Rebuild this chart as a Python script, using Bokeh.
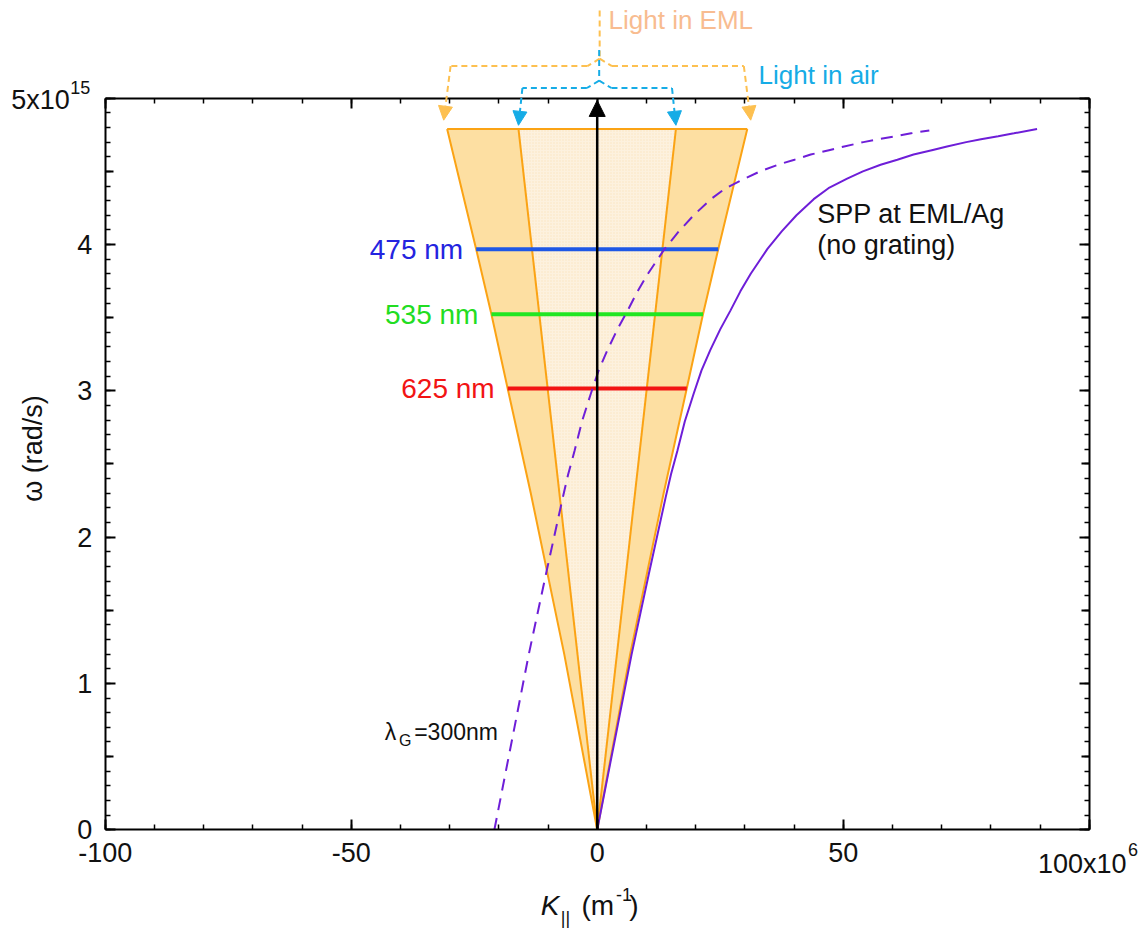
from bokeh.plotting import figure
from bokeh.models import (Range1d, LinearAxis, FixedTicker, Label, Arrow, NormalHead)
from bokeh.embed import file_html
from bokeh.resources import INLINE

# ---------------- data ----------------
# wave vector k in units of 1e6 1/m, angular frequency w in units of 1e15 rad/s
eml_edge_k = [0.0, 6.7, 13.5, 18.2, 21.5, 24.6, 30.5]
eml_edge_w = [0.0, 1.2, 2.3, 3.016, 3.523, 3.968, 4.79]
air_top_k = 16.0
top_w = 4.79

wl_labels = ["475 nm", "535 nm", "625 nm"]
wl_w = [3.968, 3.523, 3.016]
wl_half_k = [24.6, 21.5, 18.2]
wl_line_colors = ["#1F58E6", "#22E622", "#F21414"]
wl_text_colors = ["#2424E0", "#22DD22", "#F21414"]

spp_k = [0, 3.5, 7.0, 10.5, 13.9, 15.0, 16.3, 17.8, 19.6, 21.2, 23.0, 25.0, 27.1, 29.1,
         31.2, 34.6, 37.5, 40.5, 44.0, 47.0, 50.8, 54.0, 57.6, 61.0, 64.3, 68.0, 71.1,
         75.0, 78.0, 81.5, 84.7, 89.4]
spp_w = [0, 0.6, 1.2, 1.75, 2.27, 2.43, 2.59, 2.79, 2.98, 3.14, 3.28, 3.42, 3.55, 3.68,
         3.80, 3.97, 4.09, 4.20, 4.31, 4.385, 4.45, 4.50, 4.545, 4.58, 4.615, 4.645, 4.67,
         4.70, 4.72, 4.74, 4.76, 4.79]

grating_k = [-20.9, -17.4, -13.9, -10.4, -7.0, -5.9, -4.6, -3.1, -1.3, 0.3, 2.1, 4.1, 6.2,
             8.2, 10.3, 13.7, 16.6, 19.6, 23.1, 26.1, 29.9, 33.1, 36.7, 40.1, 43.4, 47.1,
             50.2, 54.1, 57.1, 60.6, 63.8, 67.5]
grating_w = [0, 0.6, 1.2, 1.75, 2.27, 2.43, 2.59, 2.79, 2.98, 3.14, 3.28, 3.42, 3.55, 3.68,
             3.80, 3.97, 4.09, 4.20, 4.31, 4.385, 4.45, 4.50, 4.545, 4.58, 4.615, 4.645,
             4.67, 4.70, 4.72, 4.74, 4.76, 4.78]

x_major = [-100, -50, 0, 50, 100]
x_minor = list(range(-100, 101, 10))
y_major = [0, 1, 2, 3, 4, 5]
y_mid = [0.5, 1.5, 2.5, 3.5, 4.5]
y_minor = [i / 10 for i in range(0, 51)]

FONT = "Liberation Sans"
ORANGE_EDGE = "#FBA314"
ORANGE_FILL = "#FDDFA2"
INNER_FILL = "#FDF1DE"
PURPLE = "#6E1ED8"
BRACE_ORANGE = "#FDC050"
BRACE_BLUE = "#16ACE6"
INK = "#111111"

# The frame spans the whole canvas so that annotations above the box are not clipped;
# the box itself is formed by axes placed at fixed data locations.
p = figure(width=1145, height=929, x_range=Range1d(-121.28, 111.44),
           y_range=Range1d(-0.682, 5.668), output_backend="svg", toolbar_location=None,
           x_axis_location=None, y_axis_location=None,
           min_border_left=0, min_border_right=0, min_border_top=0, min_border_bottom=0)
p.xgrid.visible = False
p.ygrid.visible = False
p.outline_line_color = None
p.background_fill_color = "white"
p.border_fill_color = "white"

def make_axis(ticker, loc, bounds, show_labels, overrides=None, tick_in=10, line=True):
    ax = LinearAxis(ticker=ticker, fixed_location=loc, bounds=bounds)
    ax.axis_line_width = 2
    if not line:
        ax.axis_line_color = None
    ax.major_tick_in = tick_in
    ax.major_tick_out = 0
    ax.minor_tick_in = 5
    ax.minor_tick_out = 0
    ax.major_tick_line_width = 2
    ax.minor_tick_line_width = 1.5
    ax.major_label_text_font = FONT
    ax.major_label_text_font_size = "27px" if show_labels else "0px"
    ax.major_label_text_color = INK if show_labels else None
    ax.major_label_standoff = 13
    if overrides:
        ax.major_label_overrides = overrides
    return ax

p.add_layout(make_axis(FixedTicker(ticks=x_major, minor_ticks=x_minor), 0, (-100, 100), True,
                       {-100: "-100", -50: "-50", 100: ""}), "below")
p.add_layout(make_axis(FixedTicker(ticks=y_major, minor_ticks=y_minor), -100, (0, 5), True,
                       {5: ""}), "left")
p.add_layout(make_axis(FixedTicker(ticks=x_major, minor_ticks=x_minor), 5, (-100, 100), False),
             "above")
p.add_layout(make_axis(FixedTicker(ticks=y_major, minor_ticks=y_minor), 100, (0, 5), False),
             "right")
# medium ticks at the half-integers of the frequency axis
p.add_layout(make_axis(FixedTicker(ticks=y_mid, minor_ticks=[]), -100, (0, 5), False,
                       tick_in=8, line=False), "left")
p.add_layout(make_axis(FixedTicker(ticks=y_mid, minor_ticks=[]), 100, (0, 5), False,
                       tick_in=8, line=False), "right")

# ---------------- light cone ----------------
left_k = [-k for k in eml_edge_k]
cone_x = eml_edge_k + left_k[::-1]
cone_y = eml_edge_w + eml_edge_w[::-1]
p.patch(cone_x, cone_y, fill_color=ORANGE_FILL, line_color=None)
p.patch([0, air_top_k, -air_top_k], [0, top_w, top_w], fill_color=INNER_FILL, line_color=None,
        hatch_pattern="dot", hatch_color="#F6CF98", hatch_alpha=0.45, hatch_scale=3)
p.line(eml_edge_k, eml_edge_w, line_color=ORANGE_EDGE, line_width=2)
p.line(left_k, eml_edge_w, line_color=ORANGE_EDGE, line_width=2)
p.line([0, air_top_k], [0, top_w], line_color=ORANGE_EDGE, line_width=2)
p.line([0, -air_top_k], [0, top_w], line_color=ORANGE_EDGE, line_width=2)
p.line([-eml_edge_k[-1], eml_edge_k[-1]], [top_w, top_w], line_color=ORANGE_EDGE, line_width=2)

# ---------------- wavelength lines ----------------
for lab, w, hk, lc, tc in zip(wl_labels, wl_w, wl_half_k, wl_line_colors, wl_text_colors):
    p.line([-hk, hk], [w, w], line_color=lc, line_width=4)
    p.add_layout(Label(x=-hk, y=w, x_offset=-13, text=lab, text_align="right",
                       text_baseline="middle", text_font=FONT, text_font_size="28px",
                       text_color=tc))

# ---------------- SPP curves ----------------
p.line(spp_k, spp_w, line_color=PURPLE, line_width=2)
p.line(grating_k, grating_w, line_color=PURPLE, line_width=2, line_dash="12 8")

# central arrow
p.add_layout(Arrow(end=NormalHead(size=16, fill_color="black", line_color="black"),
                   x_start=0, y_start=0, x_end=0, y_end=4.985,
                   line_color="black", line_width=2.5))

# ---------------- braces above the box ----------------
eml_top = eml_edge_k[-1]
def brace(color, k0, w_top, w_bar, w_tip, k_bar, k_tip):
    segs = [(k0, w_top, k0, w_bar + 0.05), (k0, w_bar + 0.05, k0 - 2.5, w_bar),
            (k0, w_bar + 0.05, k0 + 2.5, w_bar),
            (k0 - 2.5, w_bar, -k_bar, w_bar), (k0 + 2.5, w_bar, k_bar, w_bar)]
    for xs, ys, xe, ye in segs:
        p.add_layout(Arrow(end=None, x_start=xs, y_start=ys, x_end=xe, y_end=ye,
                           line_color=color, line_width=2, line_dash="6 4"))
    for sgn in (-1, 1):
        p.add_layout(Arrow(end=NormalHead(size=14, fill_color=color, line_color=color),
                           x_start=sgn * k_bar, y_start=w_bar, x_end=sgn * k_tip, y_end=w_tip,
                           line_color=color, line_width=2, line_dash="6 4"))

brace(BRACE_ORANGE, 0.5, 5.60, 5.22, 4.85, eml_top - 0.7, eml_top + 0.7)
brace(BRACE_BLUE, 0.4, 5.33, 5.07, 4.815, air_top_k - 0.8, air_top_k)

p.add_layout(Label(x=2.3, y=5.536, text="Light in EML", text_font=FONT, text_font_size="26px",
                   text_color="#F8BC90", text_baseline="middle", text_align="left"))
p.add_layout(Label(x=32.8, y=5.16, text="Light in air", text_font=FONT, text_font_size="26px",
                   text_color=BRACE_BLUE, text_baseline="middle", text_align="left"))

# ---------------- other texts ----------------
p.add_layout(Label(x=44.7, y=4.21, text="SPP at EML/Ag", text_font=FONT, text_font_size="27px",
                   text_color=INK, text_baseline="middle", text_align="left"))
p.add_layout(Label(x=44.7, y=4.0, text="(no grating)", text_font=FONT, text_font_size="27px",
                   text_color=INK, text_baseline="middle", text_align="left"))

p.add_layout(Label(x=-43.2, y=0.67, text="λ", text_font=FONT, text_font_size="23px",
                   text_color=INK, text_baseline="middle", text_align="left"))
p.add_layout(Label(x=-40.3, y=0.61, text="G", text_font=FONT, text_font_size="16px",
                   text_color=INK, text_baseline="middle", text_align="left"))
p.add_layout(Label(x=-37.2, y=0.67, text="=300nm", text_font=FONT, text_font_size="23px",
                   text_color=INK, text_baseline="middle", text_align="left"))

# exponent tick labels
p.add_layout(Label(x=-107.2, y=4.985, text="5x10", text_font=FONT, text_font_size="27px",
                   text_color=INK, text_baseline="middle", text_align="right"))
p.add_layout(Label(x=-107.1, y=5.074, text="15", text_font=FONT, text_font_size="18px",
                   text_color=INK, text_baseline="middle", text_align="left"))
p.add_layout(Label(x=107.6, y=-0.237, text="100x10", text_font=FONT, text_font_size="27px",
                   text_color=INK, text_baseline="middle", text_align="right"))
p.add_layout(Label(x=107.9, y=-0.134, text="6", text_font=FONT, text_font_size="18px",
                   text_color=INK, text_baseline="middle", text_align="left"))

# axis titles
p.add_layout(Label(x=-114.6, y=2.606, text="ω (rad/s)", angle=1.5708, text_font=FONT,
                   text_font_size="27px", text_color=INK, text_baseline="middle",
                   text_align="center"))
p.add_layout(Label(x=-11.5, y=-0.517, text="K", text_font=FONT, text_font_style="italic",
                   text_font_size="28px", text_color=INK, text_baseline="middle",
                   text_align="left"))
p.add_layout(Label(x=-7.4, y=-0.606, text="||", text_font=FONT,
                   text_font_size="18px", text_color=INK, text_baseline="middle",
                   text_align="left"))
p.add_layout(Label(x=-3.2, y=-0.517, text="(m", text_font=FONT,
                   text_font_size="28px", text_color=INK, text_baseline="middle",
                   text_align="left"))
p.add_layout(Label(x=3.8, y=-0.44, text="-1", text_font=FONT,
                   text_font_size="18px", text_color=INK, text_baseline="middle",
                   text_align="left"))
p.add_layout(Label(x=6.5, y=-0.517, text=")", text_font=FONT,
                   text_font_size="28px", text_color=INK, text_baseline="middle",
                   text_align="left"))

open("out.html", "w").write(file_html(p, INLINE))
